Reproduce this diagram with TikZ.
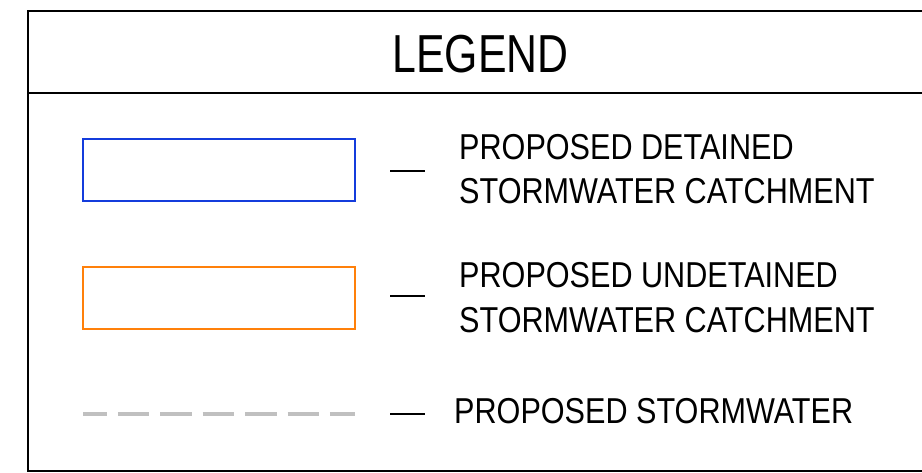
\documentclass[tikz,border=0pt]{standalone}
\usepackage{fontspec}
\setmainfont{Liberation Sans}
\newfontfamily\legtitlefont[FakeStretch=0.80]{Liberation Sans}
\newfontfamily\legtextfont[FakeStretch=0.85]{Liberation Sans}
\definecolor{legblue}{RGB}{20,60,220}
\definecolor{legorange}{RGB}{255,128,10}
\definecolor{leggray}{RGB}{192,192,192}
\begin{document}
\begin{tikzpicture}[x=1pt,y=-1pt,
  frame/.style={draw=black,line width=2pt},
  titletext/.style={inner sep=0pt,anchor=base,font=\legtitlefont\fontsize{53.5}{60}\selectfont},
  entrytext/.style={inner sep=0pt,anchor=base west,font=\legtextfont\fontsize{36}{43}\selectfont},
  swatch/.style={draw,line width=2pt,fill=none,inner sep=0pt,minimum width=272pt,minimum height=62pt},
  dashmark/.style={draw=black,line width=1.4pt},
  pipe/.style={draw=leggray,line width=4.8pt,dash pattern=on 31.5pt off 10.9pt,dash phase=7.5pt}
]
\useasboundingbox (0,0) rectangle (922,473);
\fill[white] (0,0) rectangle (922,473);
% outer frame and header line
\draw[frame] (28,11) rectangle (935,470.5);
\coordinate (hl) at (28,93);
\coordinate (hr) at (935,93);
\draw[frame] (hl) -- (hr);
\node[titletext] (title) at (480.5,72.7) {LEGEND};
% entry 1
\node[swatch,draw=legblue] (blue) at (219,170) {};
\coordinate (d1a) at (390,171);
\coordinate (d1b) at (425,171);
\draw[dashmark] (d1a) -- (d1b);
\node[entrytext] (t1a) at (459,160) {PROPOSED DETAINED};
\node[entrytext] (t1b) at (459,204) {STORMWATER CATCHMENT};
% entry 2
\node[swatch,draw=legorange] (orange) at (219,298) {};
\coordinate (d2a) at (390,296);
\coordinate (d2b) at (425,296);
\draw[dashmark] (d2a) -- (d2b);
\node[entrytext] (t2a) at (459,288) {PROPOSED UNDETAINED};
\node[entrytext] (t2b) at (459,332.7) {STORMWATER CATCHMENT};
% entry 3
\coordinate (g1) at (83,414);
\coordinate (g2) at (355,414);
\draw[pipe] (g1) -- (g2);
\coordinate (d3a) at (390,414);
\coordinate (d3b) at (425,414);
\draw[dashmark] (d3a) -- (d3b);
\node[entrytext] (t3) at (454,424) {PROPOSED STORMWATER};
\end{tikzpicture}
\end{document}
